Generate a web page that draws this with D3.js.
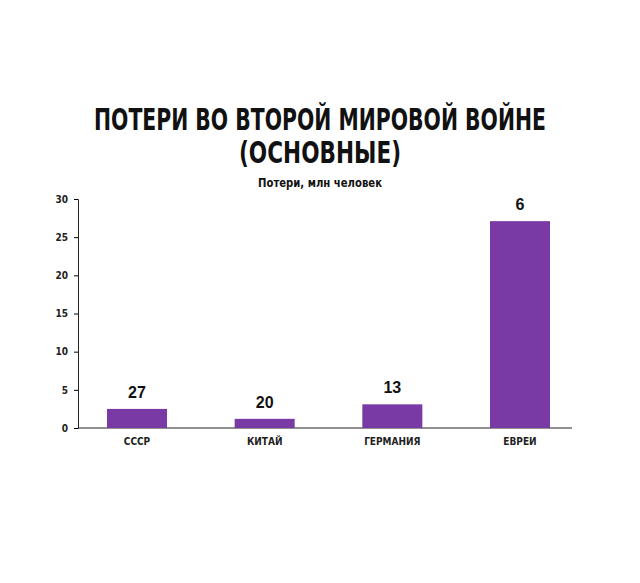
<!DOCTYPE html>
<html><head><meta charset="utf-8">
<script src="https://cdn.jsdelivr.net/npm/d3@7"></script>
<style>body{margin:0;background:#fff}</style>
</head><body>
<script>
// categories, drawn bar heights (as in the picture) and the printed labels
var categories = ["СССР", "КИТАЙ", "ГЕРМАНИЯ", "ЕВРЕИ"];
var barHeights = [2.5, 1.2, 3.1, 27.1];
var barLabels = ["27", "20", "13", "6"];
var yTicks = [0, 5, 10, 15, 20, 25, 30];

var W = 640, H = 583;
var narrow = "'Liberation Sans Narrow','DejaVu Sans Condensed',sans-serif";
var purple = "#7a3aa6";

var svg = d3.select("body").append("svg").attr("width", W).attr("height", H);

var y = d3.scaleLinear().domain([0, 30]).range([428, 199]);
var x = d3.scaleBand().domain(categories).range([107, 550]).paddingInner(0.53).paddingOuter(0);

function title(txt, ty, size, len) {
	svg.append("text").attr("x", 320).attr("y", ty).attr("text-anchor", "middle")
		.attr("font-family", narrow).attr("font-weight", "bold").attr("font-size", size)
		.attr("textLength", len).attr("lengthAdjust", "spacingAndGlyphs")
		.attr("fill", "#111").text(txt);
}
title("ПОТЕРИ ВО ВТОРОЙ МИРОВОЙ ВОЙНЕ", 130, 30, 452);
title("(ОСНОВНЫЕ)", 163, 30, 162);
title("Потери, млн человек", 187, 13, 124);

// y axis
var yAxis = svg.append("g").attr("transform", "translate(78,0)")
	.call(d3.axisLeft(y).tickValues(yTicks).tickSize(4).tickPadding(6));
yAxis.select(".domain").attr("stroke", "#222");
yAxis.selectAll("text").attr("font-family", narrow).attr("font-weight", "bold").attr("font-size", 10).attr("fill", "#222");

// baseline
svg.append("line").attr("x1", 78).attr("x2", 572).attr("y1", y(0)).attr("y2", y(0)).attr("stroke", "#222");

svg.selectAll("rect.bar").data(categories).enter().append("rect")
	.attr("x", d => x(d)).attr("width", x.bandwidth())
	.attr("y", (d, i) => y(barHeights[i])).attr("height", (d, i) => y(0) - y(barHeights[i]))
	.attr("fill", purple);

svg.selectAll("text.val").data(categories).enter().append("text")
	.attr("x", d => x(d) + x.bandwidth() / 2).attr("y", (d, i) => y(barHeights[i]) - 11)
	.attr("text-anchor", "middle").attr("font-family", "'Liberation Sans',Arial,sans-serif")
	.attr("font-weight", "bold").attr("font-size", 16).attr("fill", "#111").text((d, i) => barLabels[i]);

svg.selectAll("text.cat").data(categories).enter().append("text")
	.attr("x", d => x(d) + x.bandwidth() / 2).attr("y", 445)
	.attr("text-anchor", "middle").attr("font-family", narrow).attr("font-weight", "bold")
	.attr("font-size", 10).attr("fill", "#222").text(d => d);
</script>
</body></html>
